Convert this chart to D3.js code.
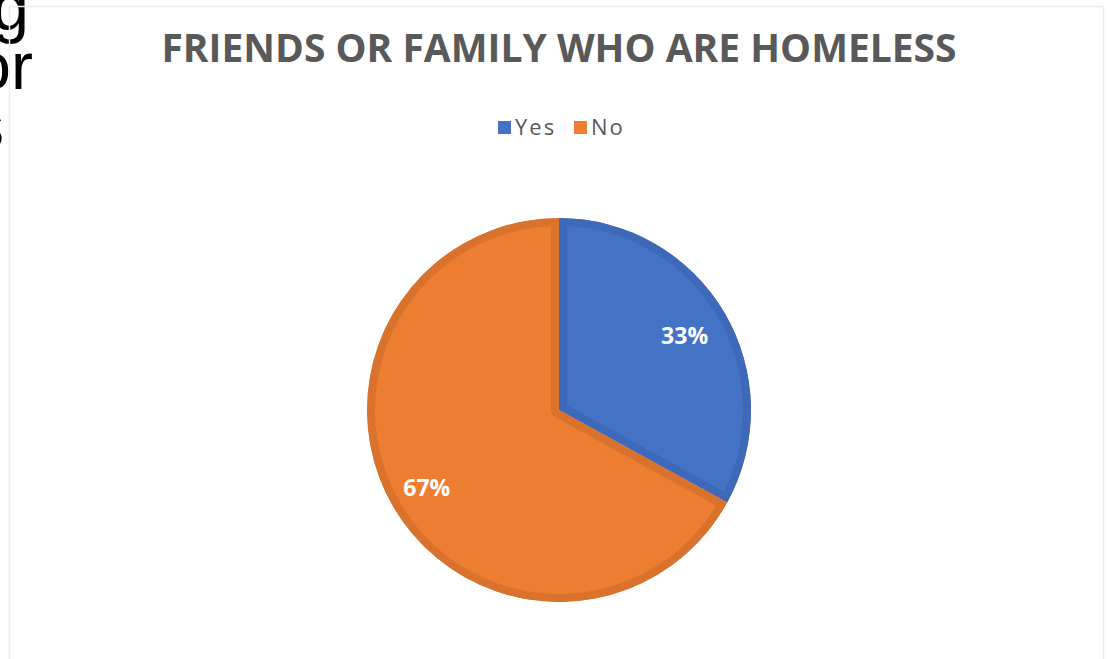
<!DOCTYPE html>
<html>
<head>
<meta charset="utf-8">
<script src="https://cdn.jsdelivr.net/npm/d3@7"></script>
<style>
  body { margin: 0; background: #fff; }
</style>
</head>
<body>
<div id="chart"></div>
<script>
// Data
var categories = ["Yes", "No"];
var values = [33, 67];
var fills = ["#4472c4", "#ed7d31"];
var borders = ["#3e68b8", "#d9722c"];

var width = 1108, height = 659;

var svg = d3.select("#chart")
  .append("svg")
    .attr("width", width)
    .attr("height", height);

// slide text peeking in from the left
var sideText = ["g", "or", "s"];
var sideEnd = [29, 33, 4];
svg.selectAll(".side")
  .data(sideText)
  .enter()
  .append("text")
    .attr("class", "side")
    .attr("x", function (d, i) { return sideEnd[i]; })
    .attr("y", function (d, i) { return 30 + i * 59; })
    .attr("text-anchor", "end")
    .style("font-family", "Liberation Sans, Arial, sans-serif")
    .style("font-size", "66px")
    .style("fill", "#000")
    .text(function (d) { return d; });

// chart area border
svg.append("rect")
  .attr("x", 9.5)
  .attr("y", 6.5)
  .attr("width", 1094)
  .attr("height", 680)
  .style("fill", "none")
  .style("stroke", "#ececec")
  .style("stroke-width", 1.5);

// title
svg.append("text")
  .attr("x", 559)
  .attr("y", 62)
  .attr("text-anchor", "middle")
  .style("font-family", "Open Sans, sans-serif")
  .style("font-weight", "bold")
  .style("font-size", "39px")
  .style("fill", "#595959")
  .text("FRIENDS OR FAMILY WHO ARE HOMELESS");

// legend
var legend = svg.append("g").attr("transform", "translate(498,121)");
var legendX = [0, 76];
var item = legend.selectAll(".item")
  .data(categories)
  .enter()
  .append("g")
    .attr("class", "item")
    .attr("transform", function (d, i) { return "translate(" + legendX[i] + ",0)"; });
item.append("rect")
  .attr("width", 13)
  .attr("height", 13)
  .style("fill", function (d, i) { return fills[i]; });
item.append("text")
  .attr("x", 17)
  .attr("y", 14)
  .style("font-family", "Open Sans, sans-serif")
  .style("font-size", "22px")
  .style("letter-spacing", "2px")
  .style("fill", "#595959")
  .text(function (d) { return d; });

// pie
var cx = 559, cy = 410, r = 192;
var labelPos = [0.76, 0.8];
var pie = d3.pie().sort(null).value(function (d) { return d; });
var arcs = pie(values);
var arc = d3.arc().innerRadius(0).outerRadius(r);

var g = svg.append("g").attr("transform", "translate(" + cx + "," + cy + ")");
var defs = svg.append("defs");

arcs.forEach(function (a, i) {
  defs.append("clipPath")
    .attr("id", "clip" + i)
    .append("path")
      .attr("d", arc(a));
});

g.selectAll(".slice")
  .data(arcs)
  .enter()
  .append("path")
    .attr("class", "slice")
    .attr("d", arc)
    .attr("clip-path", function (d, i) { return "url(#clip" + i + ")"; })
    .style("fill", function (d, i) { return fills[i]; })
    .style("stroke", function (d, i) { return borders[i]; })
    .style("stroke-width", 16)
    .style("stroke-linejoin", "round");

g.selectAll(".label")
  .data(arcs)
  .enter()
  .append("text")
    .attr("class", "label")
    .attr("transform", function (d, i) {
      var lr = r * labelPos[i];
      return "translate(" + d3.arc().innerRadius(lr).outerRadius(lr).centroid(d) + ")";
    })
    .attr("dy", "0.35em")
    .attr("text-anchor", "middle")
    .style("font-family", "Open Sans, sans-serif")
    .style("font-weight", "bold")
    .style("font-size", "23px")
    .style("fill", "#fff")
    .text(function (d) { return d.data + "%"; });
</script>
</body>
</html>
